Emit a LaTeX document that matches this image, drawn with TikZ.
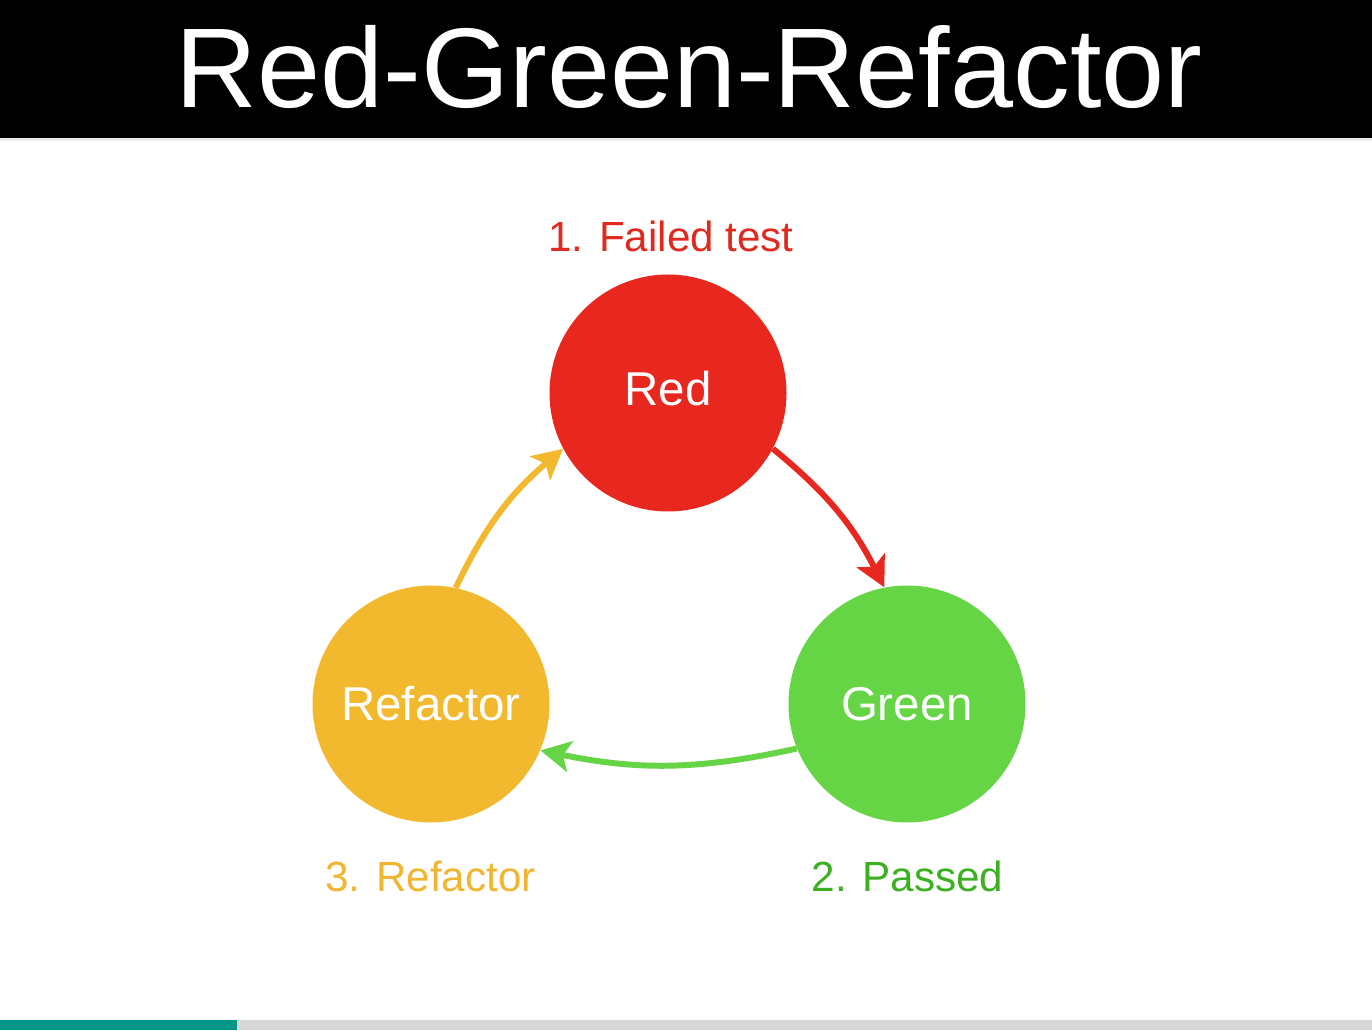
\documentclass[tikz,border=0pt]{standalone}
\usepackage{fontspec}
\setmainfont{Liberation Sans}
\usetikzlibrary{arrows.meta,positioning}
\definecolor{tddrouge}{HTML}{E8281F}
\definecolor{tddvert}{HTML}{66D545}
\definecolor{tddjaune}{HTML}{F3B92E}
\definecolor{tddrougetxt}{HTML}{E0291F}
\definecolor{tddvertfonce}{HTML}{3DB022}
\definecolor{tddjaunetxt}{HTML}{F2B530}
\definecolor{tddteal}{HTML}{009688}
\definecolor{tddgris}{HTML}{D8D8D8}
\begin{document}
\begin{tikzpicture}[
  etape/.style={circle,minimum size=4.74cm,inner sep=0pt,text=white,font=\fontsize{27}{30}\selectfont},
  legende/.style={anchor=base,font=\fontsize{24}{28}\selectfont},
  fleche/.style={line width=3.4pt,-{Stealth[length=6mm,width=6.2mm,inset=1.4mm]}}]
  \useasboundingbox (0,0) rectangle (27.44,20.6);
  % Fond
  \fill[white] (0,0) rectangle (27.44,20.6);
  % Bandeau titre
  \fill[black] (0,17.84) rectangle (27.44,20.6);
  \fill[black!8] (0,17.78) rectangle (27.44,17.84);
  \node[white,anchor=base,font=\fontsize{64.5}{70}\selectfont] (titre) at (13.78,18.44){Red-Green-Refactor};
  % Barre de progression
  \fill[tddteal] (0,0) rectangle (4.74,0.2);
  \fill[tddgris] (4.74,0) rectangle (27.44,0.2);
  % Les trois etapes
  \node[etape,fill=tddrouge] (red) at (13.36,12.74){\raisebox{0.2cm}{Red}};
  \node[etape,fill=tddvert] (green) at (18.14,6.52){Green};
  \node[etape,fill=tddjaune] (refactor) at (8.62,6.52){Refactor};
  % Legendes
  \node[legende,tddrougetxt] (failed) at (13.42,15.56){1. Failed test};
  \node[legende,tddvertfonce] (passed) at (18.15,2.78){2. Passed};
  \node[legende,tddjaunetxt] (refactorlbl) at (8.61,2.78){3. Refactor};
  % Cycle
  \draw[fleche,tddrouge] (red.-28) to[bend left=12] (green.101);
  \draw[fleche,tddvert] (green.202) to[bend left=12] (refactor.-23);
  \draw[fleche,tddjaune] (refactor.78) to[bend left=12] (red.208);
\end{tikzpicture}
\end{document}
